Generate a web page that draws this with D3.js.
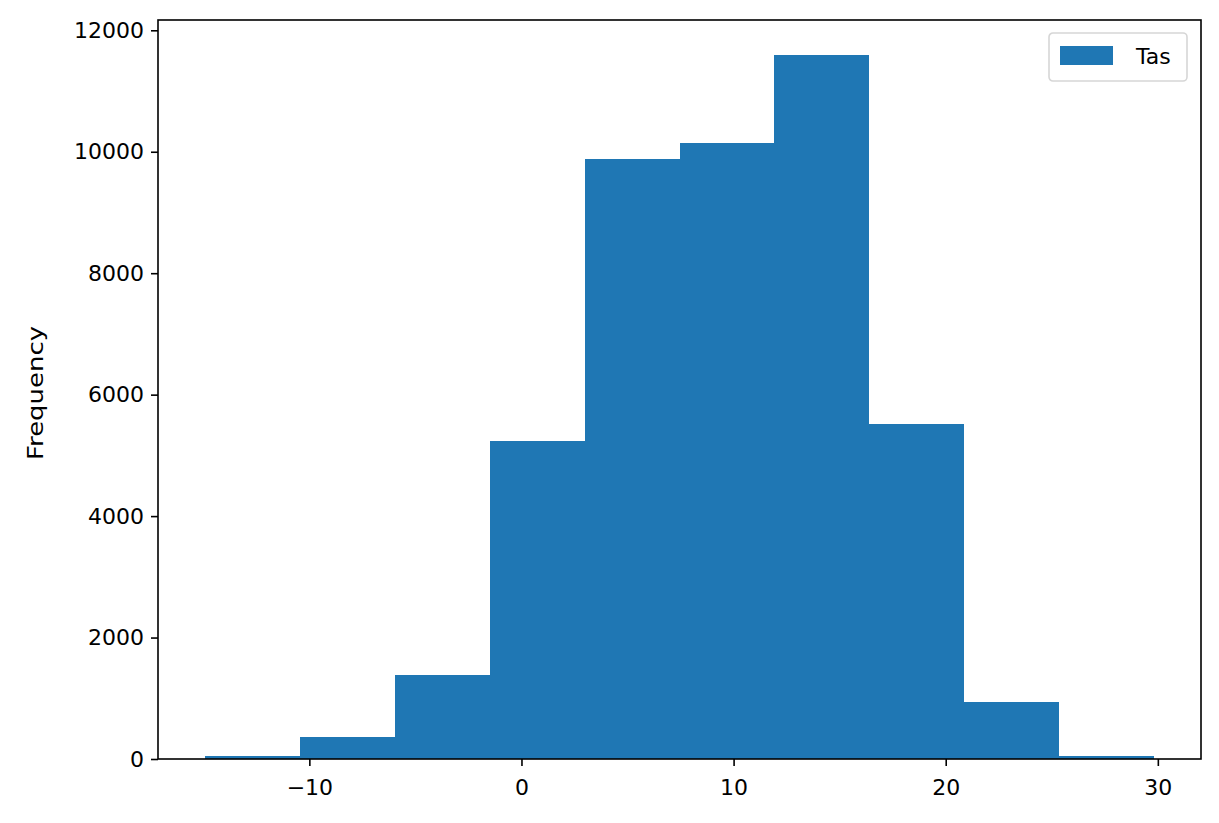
<!DOCTYPE html>
<html>
<head>
<meta charset="utf-8">
<script src="https://cdn.jsdelivr.net/npm/d3@7"></script>
<style>
	body { margin: 0; background: #fff; }
	text { font-family: "DejaVu Sans", sans-serif; }
</style>
</head>
<body>
<div id="main_node"></div>
<script>
// histogram bins (10 equal-width bins)
var binStart = -14.9;
var binEnd = 29.8;
var counts = [45, 360, 1380, 5230, 9880, 10140, 11590, 5510, 935, 45];
var xTicks = [-10, 0, 10, 20, 30];
var yTicks = [0, 2000, 4000, 6000, 8000, 10000, 12000];
var seriesName = "Tas";

var width = 1219,
	height = 823;
var margin = { left: 158, right: 18, top: 20, bottom: 64 };

var svg = d3
	.select("#main_node")
	.append("svg")
	.attr("width", width)
	.attr("height", height);

var binWidth = (binEnd - binStart) / counts.length;
var bins = counts.map(function (c, i) {
	return { x0: binStart + i * binWidth, x1: binStart + (i + 1) * binWidth, count: c };
});

var pad = (binEnd - binStart) * 0.05;
var x = d3
	.scaleLinear()
	.domain([binStart - pad, binEnd + pad])
	.range([margin.left, width - margin.right]);

var y = d3
	.scaleLinear()
	.domain([0, d3.max(counts) * 1.05])
	.range([height - margin.bottom, margin.top]);

svg
	.selectAll("rect.bar")
	.data(bins)
	.enter()
	.append("rect")
	.attr("class", "bar")
	.attr("x", function (d) {
		return x(d.x0);
	})
	.attr("width", function (d) {
		return x(d.x1) - x(d.x0);
	})
	.attr("y", function (d) {
		return y(d.count);
	})
	.attr("height", function (d) {
		return y(0) - y(d.count);
	})
	.attr("fill", "#1f77b4")
	.attr("shape-rendering", "crispEdges");

// axes
var fontSize = 22;
var xAxis = svg
	.append("g")
	.attr("transform", "translate(0," + y(0) + ")")
	.call(d3.axisBottom(x).tickValues(xTicks).tickSize(7).tickPadding(13).tickFormat(function (d) {
		return d < 0 ? "\u2212" + Math.abs(d) : d;
	}));
var yAxis = svg
	.append("g")
	.attr("transform", "translate(" + margin.left + ",0)")
	.call(d3.axisLeft(y).tickValues(yTicks).tickSize(7).tickPadding(7).tickFormat(d3.format("d")));

[xAxis, yAxis].forEach(function (g) {
	g.select(".domain").remove();
	g.selectAll(".tick line").attr("stroke", "#000").attr("stroke-width", 1.6);
	g.selectAll(".tick text")
		.attr("fill", "#000")
		.style("font-size", fontSize + "px")
		.style("font-family", "DejaVu Sans");
});

// frame
svg
	.append("rect")
	.attr("x", margin.left)
	.attr("y", margin.top)
	.attr("width", width - margin.right - margin.left)
	.attr("height", height - margin.bottom - margin.top)
	.attr("fill", "none")
	.attr("stroke", "#000")
	.attr("stroke-width", 1.6);

// y label
svg
	.append("text")
	.attr("transform", "translate(43," + (393) + ") rotate(-90)")
	.attr("text-anchor", "middle")
	.attr("textLength", 134)
	.attr("lengthAdjust", "spacingAndGlyphs")
	.style("font-size", "22px")
	.text("Frequency");

// legend
var legend = svg.append("g").attr("transform", "translate(1049,33)");
legend
	.append("rect")
	.attr("width", 138)
	.attr("height", 48)
	.attr("rx", 4)
	.attr("fill", "#fff")
	.attr("fill-opacity", 0.8)
	.attr("stroke", "#d6d6d6")
	.attr("stroke-width", 1.6);
legend
	.append("rect")
	.attr("x", 11)
	.attr("y", 13)
	.attr("width", 53)
	.attr("height", 19)
	.attr("fill", "#1f77b4");
legend
	.append("text")
	.attr("x", 87)
	.attr("y", 31)
	.style("font-size", fontSize + "px")
	.text(seriesName);
</script>
</body>
</html>
